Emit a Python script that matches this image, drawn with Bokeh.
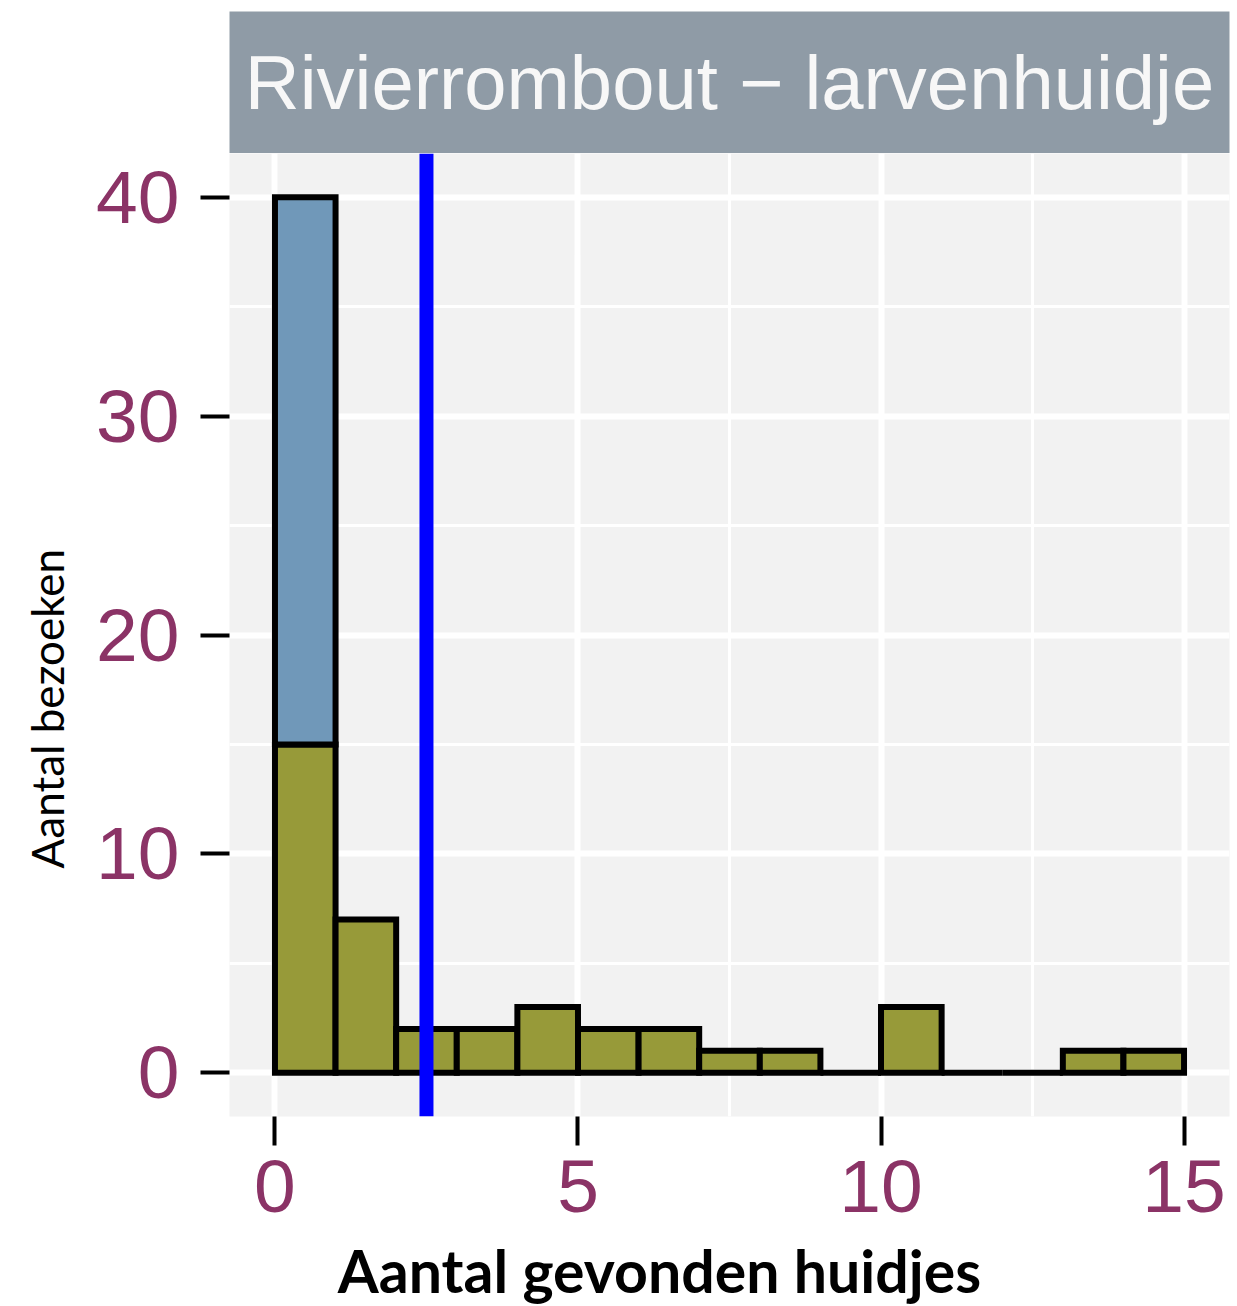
from bokeh.plotting import figure
from bokeh.models import Span, Label, FixedTicker, Range1d, Title
from bokeh.layouts import column
from bokeh.embed import file_html
from bokeh.resources import INLINE

# ---- data ----
bin_left = [0, 1, 2, 3, 4, 5, 6, 7, 8, 9, 10, 11, 12, 13, 14]
bin_right = [1, 2, 3, 4, 5, 6, 7, 8, 9, 10, 11, 12, 13, 14, 15]
counts = [15, 7, 2, 2, 3, 2, 2, 1, 1, 0, 3, 0, 0, 1, 1]
zero_left = [0]
zero_right = [1]
zero_bottom = [15]
zero_top = [40]
mean_line = 2.5
x_ticks = [0, 5, 10, 15]
x_minor = [2.5, 7.5, 12.5]
y_ticks = [0, 10, 20, 30, 40]
y_minor = [5, 15, 25, 35]
title_text = "Rivierrombout \u2212 larvenhuidje"
x_label = "Aantal gevonden huidjes"
y_label = "Aantal bezoeken"

W = 1237
LEFT = 229
RIGHT = 8
TICK_COLOR = "#8B3366"
XBAR_H = 71

# ---- strip ----
strip = figure(width=W, height=153, x_range=Range1d(0, 1), y_range=Range1d(0, 1),
               output_backend="svg", toolbar_location=None,
               min_border_left=LEFT, min_border_right=RIGHT, min_border_top=11, min_border_bottom=0)
strip.axis.visible = False
strip.grid.visible = False
strip.outline_line_color = None
strip.background_fill_color = "#8F9BA6"
strip.border_fill_color = "white"
strip.add_layout(Label(x=0.5, y=0.5, text=title_text, text_align="center", text_baseline="middle",
                       text_font="Liberation Sans", text_font_size="76px", text_color="#F7F7F7"))

# ---- main ----
p = figure(width=W, height=1082, x_range=Range1d(-0.75, 15.75), y_range=Range1d(-2.0, 42.0),
           output_backend="svg", toolbar_location=None,
           min_border_left=LEFT, min_border_right=RIGHT, min_border_top=0, min_border_bottom=119)
p.background_fill_color = "#F2F2F2"
p.border_fill_color = "white"
p.outline_line_color = None

p.xaxis.ticker = FixedTicker(ticks=x_ticks, minor_ticks=x_minor)
p.yaxis.ticker = FixedTicker(ticks=y_ticks, minor_ticks=y_minor)
for ax in (p.xaxis, p.yaxis):
    ax.axis_line_color = None
    ax.major_tick_line_color = "black"
    ax.major_tick_line_width = 4
    ax.major_tick_in = 0
    ax.major_tick_out = 29
    ax.minor_tick_line_color = None
    ax.major_label_text_font = "Liberation Sans"
    ax.major_label_text_font_size = "75px"
    ax.major_label_text_color = TICK_COLOR
p.yaxis.major_label_standoff = 21
p.xaxis.major_label_standoff = 15

for g in (p.xgrid, p.ygrid):
    g.grid_line_color = "white"
    g.grid_line_width = 6
    g.minor_grid_line_color = "white"
    g.minor_grid_line_width = 3

p.quad(left=bin_left, right=bin_right, bottom=0, top=counts,
       fill_color="#979A39", line_color="black", line_width=6, line_join="miter")
p.quad(left=zero_left, right=zero_right, bottom=zero_bottom, top=zero_top,
       fill_color="#7098B9", line_color="black", line_width=6, line_join="miter")

p.add_layout(Span(location=mean_line, dimension="height", line_color="#0000FF", line_width=14))

yt = Title(text=y_label, align="left", offset=248, vertical_align="top", standoff=38,
           text_font="Lato", text_font_style="normal", text_font_size="44px", text_color="black")
p.add_layout(yt, "left")

# ---- x axis title row (frame aligned with the panel: 229..1229 px) ----
xbar = figure(width=W, height=XBAR_H, x_range=Range1d(LEFT, W - RIGHT), y_range=Range1d(0, XBAR_H),
              output_backend="svg", toolbar_location=None,
              min_border_left=LEFT, min_border_right=RIGHT, min_border_top=0, min_border_bottom=0)
xbar.axis.visible = False
xbar.grid.visible = False
xbar.outline_line_color = None
xbar.background_fill_color = "white"
xbar.border_fill_color = "white"
xbar.add_layout(Label(x=659, y=36, text=x_label, text_align="center", text_baseline="middle",
                      text_font="Lato", text_font_style="bold", text_font_size="59px", text_color="black"))

layout = column(strip, p, xbar, spacing=0)
open("out.html", "w").write(file_html(layout, INLINE))
